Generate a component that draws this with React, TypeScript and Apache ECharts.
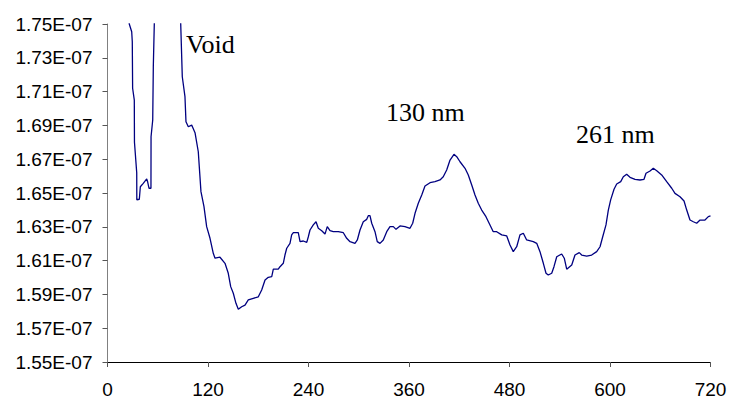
import React, { useEffect, useRef } from "react";
import * as echarts from "echarts";

// Scan position along the profile (nm)
const positions: number[] = [
  24, 26, 28.9, 29.6, 30, 32, 32.2, 34.9, 35, 38, 39.2, 42.7, 46.8, 48, 49.6, 51.9, 52, 54, 54.7, 55.9, 57,
  60, 70, 80, 86,
  87.4, 89.3, 92.5, 93.7, 96.5, 100.5, 104.5, 108.4, 111.6, 115.2, 118.4, 122.4, 126.3, 128.4, 134.3, 140.3,
  144.2, 147.1, 150.2, 153.4, 156.2, 160.2, 164.2, 168.1, 174.1, 180.1, 184.1, 188.1, 192.0, 196.1, 198.0,
  203.9, 206.0, 209.9, 211.9, 214.0, 217.9, 219.9, 221.9, 227.8, 229.9, 233.8, 237.9, 239.8, 241.8, 245.7,
  249.0, 251.7, 255.8, 259.7, 262.4, 265.7, 269.6, 275.6, 281.6, 285.6, 289.6, 295.5, 298.3, 301.5, 305.4,
  309.5, 311.4, 313.4, 315.5, 319.4, 322.1, 325.4, 329.3, 333.4, 337.3, 341.3, 344.5, 349.3, 355.2, 361.2,
  364.4, 367.2, 371.1, 375.2, 379.1, 385.1, 391.0, 397.0, 400.9, 405.0, 409.0, 413.7, 417.0, 420.9, 426.9,
  430.8, 434.9, 438.8, 442.7, 446.8, 451.9, 456.7, 460.6, 464.7, 470.7, 476.7, 480.6, 484.5, 488.6, 492.5,
  496.5, 500.5, 508.4, 512.5, 516.4, 520.4, 523.6, 526.3, 530.4, 533.1, 536.4, 542.3, 545.4, 548.3, 554.3,
  558.2, 563.3, 566.2, 572.2, 578.1, 584.1, 588.1, 591.3, 595.2, 598.0, 600.8, 604.8, 608.0, 612.8, 615.9,
  619.9, 623.9, 629.9, 635.8, 640.6, 643.0, 647.8, 651.7, 655.8, 661.7, 667.7, 673.7, 677.6, 683.6, 688.4,
  691.6, 695.5, 699.5, 703.5, 707.5, 713.4, 717.4, 720,
];

// Measured signal, in units of 1E-07
const signal: number[] = [
  1.765, 1.75, 1.7454, 1.7395, 1.712, 1.705, 1.68, 1.662, 1.646, 1.6463, 1.6537, 1.6557, 1.6583, 1.6565, 1.6528, 1.6528, 1.6833, 1.6932, 1.7247, 1.7504, 1.77,
  1.85, 1.95, 1.9, 1.78,
  1.7504, 1.7188, 1.707, 1.6922, 1.6892, 1.6902, 1.6857, 1.6744, 1.6508, 1.6419, 1.6301, 1.6232, 1.6143, 1.6114, 1.612, 1.6084,
  1.6025, 1.5946, 1.5907, 1.5847, 1.5812, 1.5827, 1.5837, 1.5867, 1.5877, 1.5886, 1.5926, 1.5985, 1.6001, 1.6005, 1.6049,
  1.6049, 1.6064, 1.6084, 1.6133, 1.6173, 1.6202, 1.6252, 1.6265, 1.6265, 1.6212, 1.6216, 1.6208, 1.6241, 1.6281, 1.6311,
  1.633, 1.6291, 1.6277, 1.6257, 1.6301, 1.6277, 1.6271, 1.6271, 1.6265, 1.6232, 1.6212, 1.6202, 1.6222, 1.6281, 1.633,
  1.6344, 1.6366, 1.6366, 1.6321, 1.6271, 1.6212, 1.6202, 1.6222, 1.6271, 1.6301, 1.6301, 1.6285, 1.6305, 1.6301, 1.6291,
  1.6321, 1.638, 1.6439, 1.6488, 1.6541, 1.6561, 1.6567, 1.6577, 1.6596, 1.6636, 1.6695, 1.6729, 1.6715, 1.6685, 1.6646,
  1.6607, 1.6547, 1.6488, 1.6439, 1.6399, 1.636, 1.6311, 1.6271, 1.6271, 1.6252, 1.6246, 1.6192, 1.6153, 1.6182, 1.6252,
  1.6262, 1.6222, 1.6212, 1.6202, 1.6153, 1.6084, 1.6025, 1.6015, 1.6025, 1.6064, 1.6123, 1.6139, 1.6114, 1.6049, 1.6074,
  1.6133, 1.6147, 1.6133, 1.6127, 1.6133, 1.6153, 1.6182, 1.6241, 1.6311, 1.6399, 1.6459, 1.6522, 1.6553, 1.6567, 1.6596,
  1.6611, 1.6593, 1.6581, 1.6577, 1.6581, 1.6617, 1.663, 1.6646, 1.6632, 1.6607, 1.6567, 1.6528, 1.6498, 1.6478, 1.6453,
  1.6399, 1.634, 1.633, 1.6321, 1.634, 1.634, 1.636, 1.6364,
];

const yTicks: number[] = [1.55, 1.57, 1.59, 1.61, 1.63, 1.65, 1.67, 1.69, 1.71, 1.73, 1.75];
const xTicks: number[] = [0, 120, 240, 360, 480, 600, 720];

const annotations = [
  { text: "Void", x: 186, y: 44 },
  { text: "130 nm", x: 386, y: 112 },
  { text: "261 nm", x: 576, y: 134 },
];

export default function App() {
  const ref = useRef<HTMLDivElement>(null);

  useEffect(() => {
    if (!ref.current) return;
    const chart = echarts.init(ref.current, undefined, { renderer: "svg" });
    const data = positions.map((x, i) => [x, signal[i]]);
    const sans = "'Liberation Sans', Arial, sans-serif";
    const serif = "'Liberation Serif', 'Times New Roman', serif";

    chart.setOption({
      animation: false,
      backgroundColor: "#ffffff",
      grid: {
        left: 107.5,
        right: 18.5,
        top: 24,
        bottom: 38,
        containLabel: false,
        outerBoundsMode: "none",
      },
      xAxis: {
        type: "value",
        min: xTicks[0],
        max: xTicks[xTicks.length - 1],
        interval: 120,
        axisLine: { show: true, onZero: false, lineStyle: { color: "#000000", width: 1 } },
        axisTick: { show: true, length: 5, lineStyle: { color: "#555555" } },
        axisLabel: { color: "#000000", fontFamily: sans, fontSize: 19, margin: 18 },
        splitLine: { show: false },
      },
      yAxis: {
        type: "value",
        min: yTicks[0],
        max: yTicks[yTicks.length - 1],
        axisLine: { show: true, onZero: false, lineStyle: { color: "#808080", width: 1 } },
        axisTick: { show: true, length: 5, customValues: yTicks, lineStyle: { color: "#555555" } },
        axisLabel: {
          color: "#000000",
          fontFamily: sans,
          fontSize: 19,
          margin: 15,
          customValues: yTicks,
          formatter: (v: number) => v.toFixed(2) + "E-07",
        },
        splitLine: { show: false },
      },
      series: [
        {
          type: "line",
          data,
          showSymbol: false,
          symbol: "none",
          clip: true,
          lineStyle: { color: "#000080", width: 1.3 },
        },
      ],
      graphic: annotations.map((a) => ({
        type: "text",
        x: a.x,
        y: a.y,
        style: {
          text: a.text,
          fill: "#000000",
          font: `26px ${serif}`,
          verticalAlign: "middle",
          align: "left",
        },
      })),
    });

    return () => chart.dispose();
  }, []);

  return (
    <div
      ref={ref}
      style={{ position: "fixed", left: 0, top: 0, width: 729, height: 400, background: "#fff" }}
    />
  );
}
